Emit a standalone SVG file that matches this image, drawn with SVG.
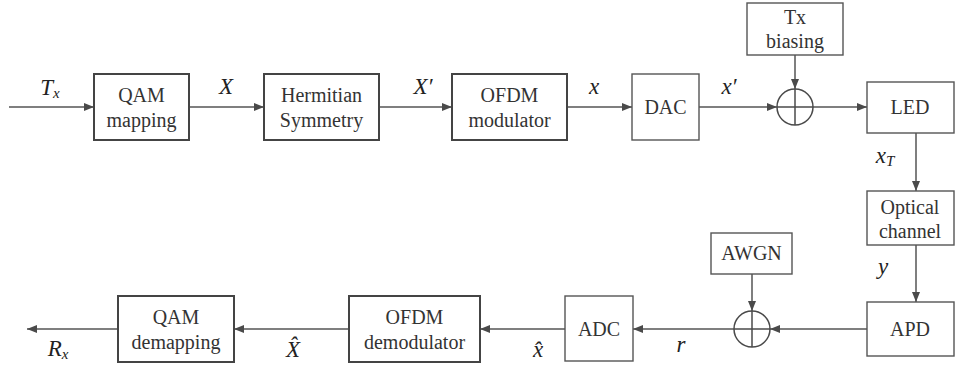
<svg xmlns="http://www.w3.org/2000/svg" width="955" height="368" viewBox="0 0 955 368" font-family="Liberation Serif, serif">
<defs>
<marker id="ah" viewBox="0 0 10 8" refX="10" refY="4" markerWidth="10" markerHeight="8" markerUnits="userSpaceOnUse" orient="auto">
<path d="M0,0 L10,4 L0,8 z" fill="#4a4a4a"/>
</marker>
<style>
.box{fill:#fff;stroke:#444;stroke-width:2}
.lbox{fill:#fff;stroke:#555;stroke-width:1.4}
.t{font-size:20px;fill:#333;text-anchor:middle}
.m{font-style:italic;font-size:23px;fill:#222;text-anchor:middle}
.s{font-size:15px}
.c{fill:none;stroke:#4a4a4a;stroke-width:1.5}
.ln{fill:none;stroke:#555;stroke-width:1.5}
</style>
</defs>
<rect width="955" height="368" fill="#fff"/>

<g id="connectors">
<line class="ln" x1="9" y1="107" x2="94" y2="107" marker-end="url(#ah)"/>
<line class="ln" x1="189" y1="107" x2="264" y2="107" marker-end="url(#ah)"/>
<line class="ln" x1="379" y1="107" x2="452" y2="107" marker-end="url(#ah)"/>
<line class="ln" x1="567" y1="107" x2="632" y2="107" marker-end="url(#ah)"/>
<line class="ln" x1="699" y1="107" x2="777" y2="107" marker-end="url(#ah)"/>
<line class="ln" x1="795" y1="55" x2="795" y2="89" marker-end="url(#ah)"/>
<line class="ln" x1="813" y1="107" x2="867" y2="107" marker-end="url(#ah)"/>
<line class="ln" x1="916" y1="133" x2="916" y2="191" marker-end="url(#ah)"/>
<line class="ln" x1="916" y1="245" x2="916" y2="302" marker-end="url(#ah)"/>
<line class="ln" x1="867" y1="329" x2="770" y2="329" marker-end="url(#ah)"/>
<line class="ln" x1="752" y1="274" x2="752" y2="311" marker-end="url(#ah)"/>
<line class="ln" x1="734" y1="329" x2="633" y2="329" marker-end="url(#ah)"/>
<line class="ln" x1="565" y1="329" x2="480" y2="329" marker-end="url(#ah)"/>
<line class="ln" x1="349" y1="329" x2="234" y2="329" marker-end="url(#ah)"/>
<line class="ln" x1="118" y1="329" x2="27" y2="329" marker-end="url(#ah)"/>
</g>

<g id="qam-mapping">
<rect class="box" x="94" y="74" width="95" height="66"/>
<text class="t" x="141.5" y="102">QAM</text>
<text class="t" x="141.5" y="127">mapping</text>
</g>
<g id="hermitian">
<rect class="box" x="264" y="74" width="115" height="66"/>
<text class="t" x="321.5" y="102">Hermitian</text>
<text class="t" x="321.5" y="127">Symmetry</text>
</g>
<g id="ofdm-mod">
<rect class="box" x="452" y="74" width="115" height="66"/>
<text class="t" x="509.5" y="102">OFDM</text>
<text class="t" x="509.5" y="127">modulator</text>
</g>
<g id="dac">
<rect class="lbox" x="632" y="74" width="67" height="66"/>
<text class="t" x="665.5" y="114">DAC</text>
</g>
<g id="tx-biasing">
<rect class="lbox" x="747" y="3" width="96" height="52"/>
<text class="t" x="795" y="24">Tx</text>
<text class="t" x="795" y="48">biasing</text>
</g>
<g id="sum-tx">
<circle class="c" cx="795" cy="107" r="18"/>
<line class="c" x1="777" y1="107" x2="813" y2="107"/>
<line class="c" x1="795" y1="89" x2="795" y2="125"/>
</g>
<g id="led">
<rect class="lbox" x="867" y="82" width="87" height="51"/>
<text class="t" x="910" y="114">LED</text>
</g>
<g id="optical-channel">
<rect class="lbox" x="867" y="191" width="87" height="54"/>
<text class="t" x="910" y="214">Optical</text>
<text class="t" x="910" y="238">channel</text>
</g>
<g id="apd">
<rect class="lbox" x="867" y="302" width="87" height="54"/>
<text class="t" x="910" y="336">APD</text>
</g>
<g id="awgn">
<rect class="lbox" x="711" y="233" width="81" height="41"/>
<text class="t" x="751.5" y="260">AWGN</text>
</g>
<g id="sum-rx">
<circle class="c" cx="752" cy="329" r="18"/>
<line class="c" x1="734" y1="329" x2="770" y2="329"/>
<line class="c" x1="752" y1="311" x2="752" y2="347"/>
</g>
<g id="adc">
<rect class="lbox" x="565" y="296" width="68" height="65"/>
<text class="t" x="599" y="336">ADC</text>
</g>
<g id="ofdm-demod">
<rect class="box" x="349" y="296" width="131" height="66"/>
<text class="t" x="414.5" y="324">OFDM</text>
<text class="t" x="414.5" y="349">demodulator</text>
</g>
<g id="qam-demapping">
<rect class="box" x="118" y="296" width="116" height="66"/>
<text class="t" x="176" y="324">QAM</text>
<text class="t" x="176" y="349">demapping</text>
</g>

<g id="labels">
<text class="m" x="50" y="95">T<tspan class="s" dy="3">x</tspan></text>
<text class="m" x="226" y="94">X</text>
<text class="m" x="423" y="94">X′</text>
<text class="m" x="594" y="94">x</text>
<text class="m" x="729" y="94">x′</text>
<text class="m" x="885" y="163">x<tspan class="s" dy="3">T</tspan></text>
<text class="m" x="883" y="274">y</text>
<text class="m" x="681" y="352">r</text>
<text class="m" x="538" y="357">x̂</text>
<text class="m" x="293" y="357">X̂</text>
<text class="m" x="58" y="356">R<tspan class="s" dy="3">x</tspan></text>
</g>
</svg>
